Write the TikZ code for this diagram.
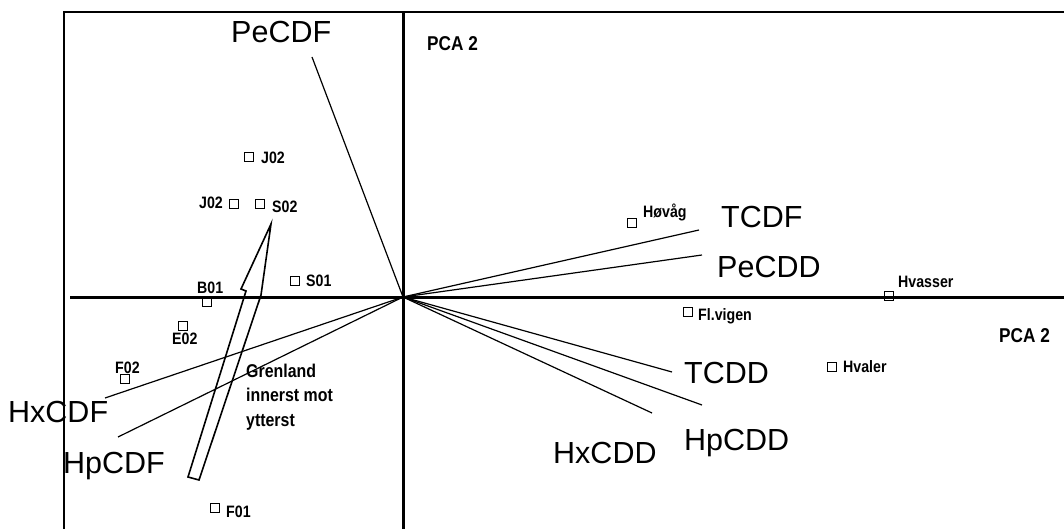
\documentclass[tikz,border=0pt]{standalone}
\usepackage{fontspec}
\setmainfont{Liberation Sans}
\newfontfamily\nb[FakeStretch=0.86]{Liberation Sans}
\begin{document}
\begin{tikzpicture}[x=1pt,y=-1pt,
  big/.style={font=\fontsize{30.5}{36}\selectfont, inner sep=0pt, anchor=base west},
  lab/.style={font=\nb\bfseries\fontsize{16.5}{19}\selectfont, inner sep=0pt, anchor=base west},
  pca/.style={font=\nb\bfseries\fontsize{20}{24}\selectfont, inner sep=0pt, anchor=base west},
  pt/.style={draw, line width=1.1pt, minimum size=9pt, inner sep=0pt},
  ax/.style={line width=3pt},
  frame/.style={line width=1.4pt},
  vec/.style={line width=1.2pt}]
\useasboundingbox (0,0) rectangle (1064,529);
% frame
\coordinate (FL0) at (64,529);
\coordinate (FTL) at (64,12);
\coordinate (FTR) at (1064,12);
\draw[frame] (FL0) -- (FTL) -- (FTR);
% axes
\coordinate (O) at (403,297);
\coordinate (AT) at (403,12);
\coordinate (AB) at (403,529);
\coordinate (AL) at (70,297);
\coordinate (AR) at (1064,297);
\draw[ax] (AT) -- (AB);
\draw[ax] (AL) -- (AR);
% axis labels
\node[pca] (pcaTop) at (427,51) {PCA 2};
\node[pca] (pcaRight) at (999,342) {PCA 2};
% vector ends
\coordinate (ePeCDF) at (312,57);
\coordinate (eTCDF) at (699,230);
\coordinate (ePeCDD) at (702,255);
\coordinate (eTCDD) at (672,372);
\coordinate (eHpCDD) at (702,405);
\coordinate (eHxCDD) at (652,413);
\coordinate (eHxCDF) at (105,398);
\coordinate (eHpCDF) at (118,437);
\foreach \e in {ePeCDF,eTCDF,ePeCDD,eTCDD,eHpCDD,eHxCDD,eHxCDF,eHpCDF}
  \draw[vec] (O) -- (\e);
% vector labels
\node[big] (tPeCDF) at (231,43) {PeCDF};
\node[big] (tTCDF) at (721,227) {TCDF};
\node[big] (tPeCDD) at (717,277) {PeCDD};
\node[big] (tTCDD) at (684,383) {TCDD};
\node[big] (tHpCDD) at (684,450) {HpCDD};
\node[big] (tHxCDD) at (553,463) {HxCDD};
\node[big] (tHxCDF) at (8,422) {HxCDF};
\node[big] (tHpCDF) at (63,473) {HpCDF};
% sample points
\node[pt] (pJ02a) at (249,157) {};
\node[lab] (lJ02a) at (261,164) {J02};
\node[pt] (pJ02b) at (234,204) {};
\node[lab] (lJ02b) at (199,208) {J02};
\node[pt] (pS02) at (260,204) {};
\node[lab] (lS02) at (272,212) {S02};
\node[pt] (pS01) at (295,281) {};
\node[lab] (lS01) at (306,286) {S01};
\node[pt] (pB01) at (207,302) {};
\node[lab] (lB01) at (197,293) {B01};
\node[pt] (pE02) at (183,326) {};
\node[lab] (lE02) at (172,344) {E02};
\node[pt] (pF02) at (125,379) {};
\node[lab] (lF02) at (115,373) {F02};
\node[pt] (pF01) at (215,508) {};
\node[lab] (lF01) at (226,517) {F01};
\node[pt] (pHovag) at (632,223) {};
\node[lab] (lHovag) at (643,218) {Høvåg};
\node[pt] (pHvasser) at (889,296) {};
\node[lab] (lHvasser) at (898,287) {Hvasser};
\node[pt] (pFl) at (688,312) {};
\node[lab] (lFl) at (698,320) {Fl.vigen};
\node[pt] (pHvaler) at (832,367) {};
\node[lab] (lHvaler) at (843,372) {Hvaler};
% big arrow
\draw[line width=1.6pt, line join=miter]
  (271,224) -- (261,295) -- (199,480) -- (188,477) -- (246,291) -- (241,289) -- cycle;
\node[font=\nb\bfseries\fontsize{18.5}{24.5}\selectfont, inner sep=0pt, align=left, anchor=north west]
  (tGren) at (246,363.5) {Grenland\\innerst mot\\ytterst};
\end{tikzpicture}
\end{document}
